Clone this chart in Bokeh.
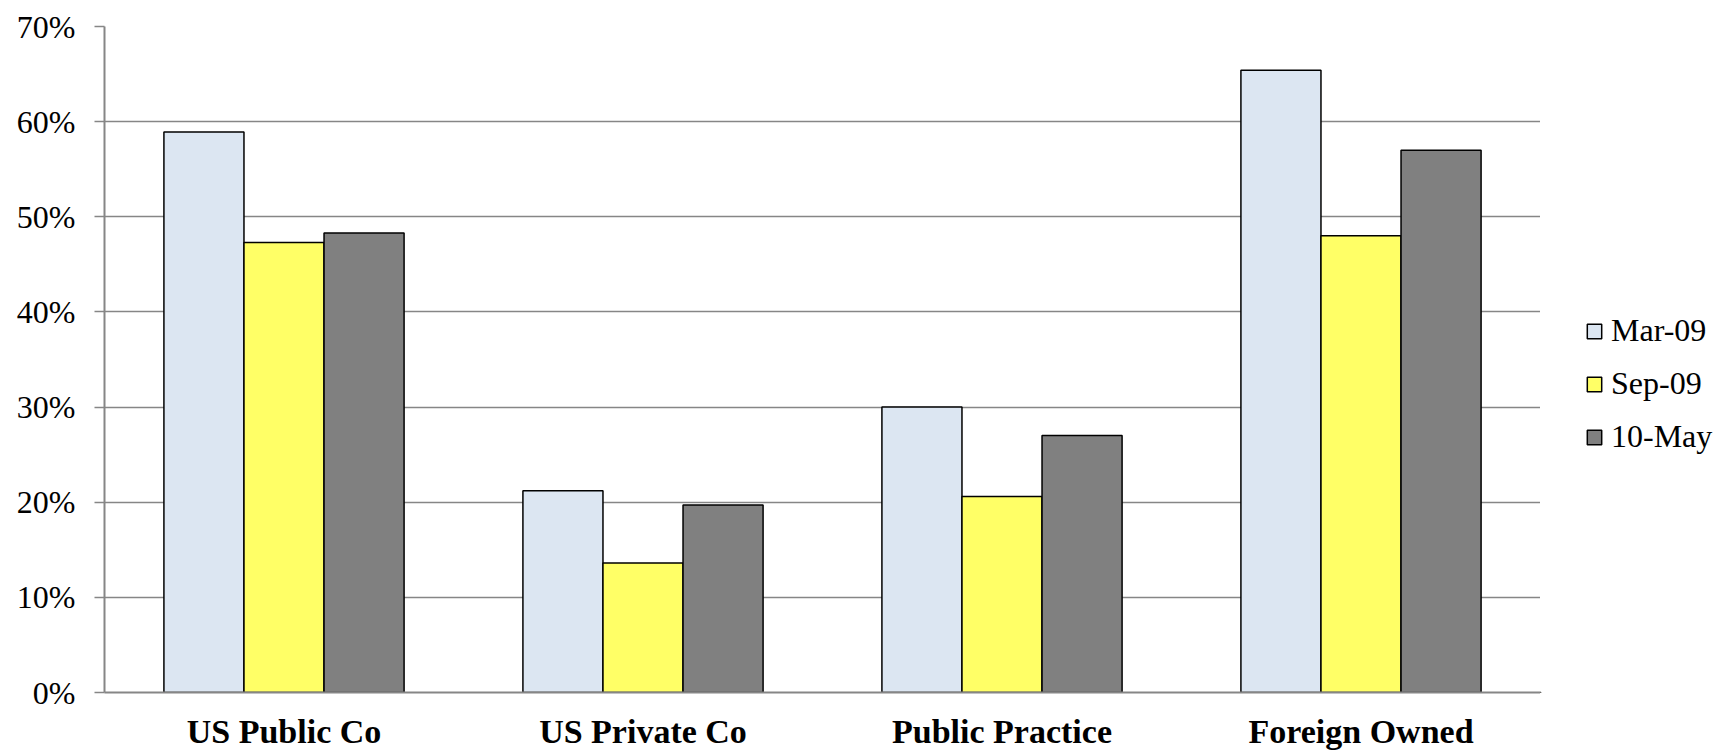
from bokeh.plotting import figure
from bokeh.layouts import row
from bokeh.models import ColumnDataSource, FactorRange, Range1d, NumeralTickFormatter, Legend, LegendItem, FixedTicker
from bokeh.transform import dodge
from bokeh.embed import file_html
from bokeh.resources import INLINE

categories = ["US Public Co", "US Private Co", "Public Practice", "Foreign Owned"]
series_names = ["Mar-09", "Sep-09", "10-May"]
mar_09 = [0.589, 0.212, 0.300, 0.654]
sep_09 = [0.473, 0.136, 0.206, 0.480]
may_10 = [0.483, 0.197, 0.270, 0.570]
colors = ["#DCE6F2", "#FFFF66", "#808080"]
y_ticks = [0.0, 0.1, 0.2, 0.3, 0.4, 0.5, 0.6, 0.7]

src = ColumnDataSource(dict(cat=categories, mar=mar_09, sep=sep_09, may=may_10))

FONT = "Liberation Serif"
GRID = "#868686"

p = figure(x_range=FactorRange(*categories, range_padding=0), y_range=Range1d(0, 0.7),
           width=1540, height=752, output_backend="svg", toolbar_location=None,
           min_border_left=104, min_border_right=0, min_border_top=26, min_border_bottom=58)
p.outline_line_color = None
p.background_fill_color = "white"

bw = 0.223
for col, off, c in zip(["mar", "sep", "may"], [-bw, 0.0, bw], colors):
    p.vbar(x=dodge("cat", off, range=p.x_range), top=col, width=bw, source=src,
           fill_color=c, line_color="black", line_width=1.5)

p.xgrid.grid_line_color = None
p.ygrid.grid_line_color = GRID
p.ygrid.grid_line_width = 1.5

p.yaxis.ticker = FixedTicker(ticks=y_ticks)
p.yaxis.formatter = NumeralTickFormatter(format="0%")
p.yaxis.axis_line_color = GRID
p.yaxis.axis_line_width = 2
p.yaxis.major_tick_line_color = GRID
p.yaxis.major_tick_line_width = 1.5
p.yaxis.major_tick_out = 10
p.yaxis.major_tick_in = 0
p.yaxis.minor_tick_line_color = None
p.yaxis.major_label_text_font = FONT
p.yaxis.major_label_text_font_size = "32px"
p.yaxis.major_label_text_color = "black"
p.yaxis.major_label_standoff = 19

p.xaxis.axis_line_color = GRID
p.xaxis.axis_line_width = 2
p.xaxis.major_tick_line_color = None
p.xaxis.minor_tick_line_color = None
p.xaxis.major_label_text_font = FONT
p.xaxis.major_label_text_font_size = "34px"
p.xaxis.major_label_text_font_style = "bold"
p.xaxis.major_label_text_color = "black"
p.xaxis.major_label_standoff = 14

# legend panel on the right (swatch renderers sit outside the visible range)
lf = figure(width=175, height=752, output_backend="svg", toolbar_location=None,
            x_range=Range1d(0, 1), y_range=Range1d(0, 1),
            min_border_left=0, min_border_right=0, min_border_top=0, min_border_bottom=0)
lf.axis.visible = False
lf.grid.visible = False
lf.outline_line_color = None
swatch = ColumnDataSource(dict(x=[-5.0], top=[-5.0]))
items = []
for n, c in zip(series_names, colors):
    r = lf.vbar(x="x", top="top", bottom=-6.0, width=0.1, source=swatch,
                fill_color=c, line_color="black", line_width=1.5)
    items.append(LegendItem(label=n, renderers=[r]))

legend = Legend(items=items, location=(45, 237), orientation="vertical",
                glyph_width=18, glyph_height=18, label_standoff=8, spacing=16,
                label_text_font=FONT, label_text_font_size="32px", label_text_color="black",
                border_line_color=None, background_fill_alpha=0, margin=0, padding=0)
lf.add_layout(legend, "center")

layout = row(p, lf)
open("out.html", "w").write(file_html(layout, INLINE))
